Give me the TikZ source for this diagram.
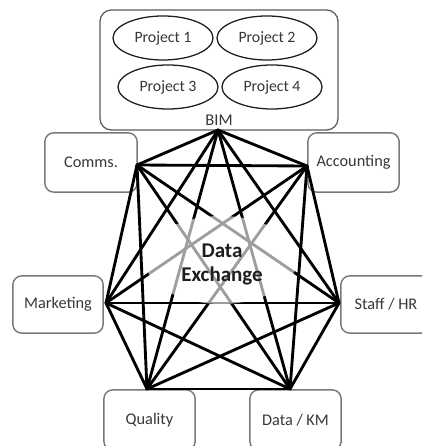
\documentclass[tikz,border=0pt]{standalone}
\usepackage{fontspec}
\setmainfont{Carlito}
\usetikzlibrary{shapes.geometric}

\tikzset{
  labelbox/.style={rectangle, text=r55g55b55, font=\fontsize{16.3}{19}\selectfont, inner sep=0pt},
  boxline/.style={draw=r120g120b120, line width=0.05cm, rounded corners=0.32cm},
  projectbox/.style={ellipse, draw=r30g30b30, line width=0.045cm, minimum width=100pt, minimum height=44pt, inner sep=0pt, text=r55g55b55, font=\fontsize{15.8}{18}\selectfont},
  linkline/.style={line width=0.1cm, line cap=round, black}
}

\begin{document}
\begin{tikzpicture}[x=1pt,y=-1pt]
            \useasboundingbox (0,0) rectangle (422,446);
            \clip (0,0) rectangle (422,446);

            % Changing color
            \definecolor{r120g120b120}{rgb}{0.470000,0.470000,0.470000}%
            \definecolor{r55g55b55}{rgb}{0.215000,0.215000,0.215000}%
            \definecolor{r30g30b30}{rgb}{0.118000,0.118000,0.118000}%
            \definecolor{r90g90b90}{rgb}{0.353000,0.353000,0.353000}%

            % Drawing BIM box with projects
            \node [draw=r90g90b90, line width=0.045cm, rounded corners=0.4cm, minimum width=238pt, minimum height=120pt, inner sep=0pt] (bim) at (219.000000,70.000000) {};%
            \node [projectbox] (proj1) at (163.000000,38.000000) { Project 1 };%
            \node [projectbox] (proj2) at (267.000000,38.000000) { Project 2 };%
            \node [projectbox] (proj3) at (168.000000,87.000000) { Project 3 };%
            \node [projectbox] (proj4) at (272.000000,87.000000) { Project 4 };%
            \node [text=r55g55b55, font=\fontsize{16.5}{19}\selectfont, anchor=south] (bimtext) at (219.000000,129.000000) { BIM };%

            % Drawing department boxes
            \node [labelbox, minimum width=92pt, minimum height=59pt] (comms) at (91.000000,162.500000) { Comms. };%
            \node [labelbox, minimum width=91pt, minimum height=59pt] (acc) at (353.500000,162.500000) { Accounting };%
            \node [labelbox, minimum width=90pt, minimum height=57pt] (mark) at (58.000000,304.500000) { Marketing };%
            \node [labelbox, minimum width=90pt, minimum height=57pt] (staff) at (386.000000,304.500000) { Staff / HR };%
            \node [labelbox, minimum width=91pt, minimum height=60pt] (qual) at (149.500000,420.000000) { Quality };%
            \node [labelbox, minimum width=91pt, minimum height=60pt] (datakm) at (295.500000,420.000000) { Data / KM };%
            \draw [boxline] (comms.north west) rectangle (comms.south east);%
            \draw [boxline] (acc.north west) rectangle (acc.south east);%
            \draw [boxline] (mark.north west) rectangle (mark.south east);%
            \draw [boxline] (staff.north west) rectangle (staff.south east);%
            \draw [boxline] (qual.north west) rectangle (qual.south east);%
            \draw [boxline] (datakm.north west) rectangle (datakm.south east);%

            % Marking link points
            \coordinate (pbim) at (218.000000,130.000000);%
            \coordinate (pcomms) at (137.000000,165.000000);%
            \coordinate (pacc) at (307.000000,166.000000);%
            \coordinate (pmark) at (106.000000,303.000000);%
            \coordinate (pstaff) at (339.000000,303.000000);%
            \coordinate (pqual) at (147.000000,389.000000);%
            \coordinate (pdatakm) at (290.000000,389.000000);%

            % Drawing links
            \draw [linkline] (pbim) -- (pcomms);%
            \draw [linkline] (pbim) -- (pacc);%
            \draw [linkline] (pbim) -- (pmark);%
            \draw [linkline] (pbim) -- (pstaff);%
            \draw [linkline] (pbim) -- (pqual);%
            \draw [linkline] (pbim) -- (pdatakm);%
            \draw [linkline] (pcomms) -- (pacc);%
            \draw [linkline] (pcomms) -- (pmark);%
            \draw [linkline] (pcomms) -- (pstaff);%
            \draw [linkline] (pcomms) -- (pqual);%
            \draw [linkline] (pcomms) -- (pdatakm);%
            \draw [linkline] (pacc) -- (pmark);%
            \draw [linkline] (pacc) -- (pstaff);%
            \draw [linkline] (pacc) -- (pqual);%
            \draw [linkline] (pacc) -- (pdatakm);%
            \draw [linkline] (pmark) -- (pstaff);%
            \draw [linkline] (pmark) -- (pqual);%
            \draw [linkline] (pmark) -- (pdatakm);%
            \draw [linkline] (pstaff) -- (pqual);%
            \draw [linkline] (pstaff) -- (pdatakm);%
            \draw [linkline] (pqual) -- (pdatakm);%

            % Fading centre
            \fill [white, opacity=0.62] (221.000000,260.000000) ellipse [x radius=76pt, y radius=44pt];%

            % Marking Data Exchange
            \node [align=center, font=\bfseries\fontsize{21}{24}\selectfont, text=r30g30b30] (exch) at (222.000000,264.000000) { Data\\Exchange };%
\end{tikzpicture}
\end{document}
